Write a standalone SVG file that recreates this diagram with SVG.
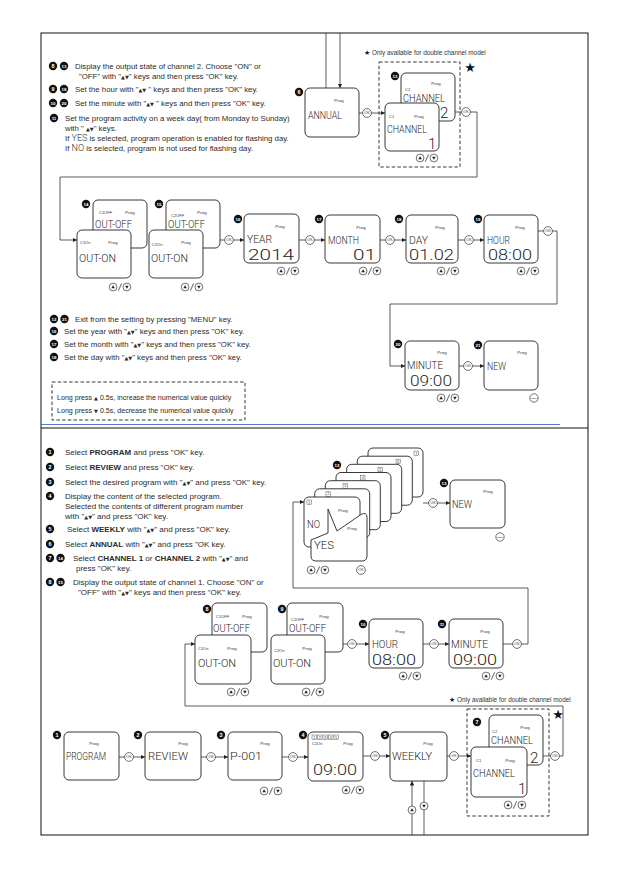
<svg xmlns="http://www.w3.org/2000/svg" width="629" height="893" viewBox="0 0 629 893">
<defs>
<style>
.t{font-family:"Liberation Sans",Arial,sans-serif;font-size:7.8px;fill:#2b2b2b}
.tb{font-family:"Liberation Sans",Arial,sans-serif;font-size:8px;fill:#2b2b2b}
.lp{font-family:"Liberation Sans",Arial,sans-serif;font-size:7.1px;fill:#2b2b2b}
.note{font-family:"Liberation Sans",Arial,sans-serif;font-size:6.4px;fill:#333}
.star{font-family:"DejaVu Sans",sans-serif;fill:#111}
.b{font-weight:bold}
.tr{font-family:"DejaVu Sans",sans-serif;font-size:5px}
.li{font-family:Roboto,"DejaVu Sans",sans-serif;font-weight:300;font-size:9px}
.lcd{font-family:Roboto,"DejaVu Sans",sans-serif;font-weight:300;font-size:10px;fill:#262626}
.big{font-family:Roboto,"DejaVu Sans",sans-serif;font-weight:300;font-size:15px;fill:#262626}
.pg{font-family:"Liberation Sans",Arial,sans-serif;font-size:4.4px;fill:#333;text-anchor:middle}
.sm{font-family:"Liberation Sans",Arial,sans-serif;font-size:4px;fill:#333}
.box{fill:#fff;stroke:#222;stroke-width:0.9}
.ln{fill:none;stroke:#333;stroke-width:0.8}
.ar{marker-end:url(#arr)}
.bd circle{fill:#111}
.bd text{fill:#fff;font-family:"Liberation Sans",Arial,sans-serif;font-weight:bold;font-size:5.4px;text-anchor:middle}
.bd text.d{font-size:4.4px}
.dash{fill:none;stroke:#222;stroke-width:0.9;stroke-dasharray:3.5 2.2}
.sq{fill:#fff;stroke:#444;stroke-width:0.45}
.sqt{font-family:"Liberation Sans",Arial,sans-serif;font-size:3.6px;fill:#333;text-anchor:middle}
.btn{fill:#fff;stroke:#333;stroke-width:0.7}
.bt{font-family:"Liberation Sans",Arial,sans-serif;fill:#333;text-anchor:middle}
</style>
<marker id="arr" viewBox="0 0 6 6" refX="6" refY="3" markerWidth="4.5" markerHeight="4.5" markerUnits="userSpaceOnUse" orient="auto"><path d="M0,0L6,3L0,6Z" fill="#222"/></marker>
<g id="ok"><circle class="btn" r="4.4"/><text class="bt" y="1.3" font-size="3.7">OK</text></g>
<g id="menu"><circle class="btn" r="4.2"/><text class="bt" y="0.9" font-size="2.4">MENU</text></g>
<g id="ud"><circle class="btn" cx="-6.9" r="3.9"/><path d="M-8.7,1.3H-5.1L-6.9,-1.8Z" fill="#222"/><path d="M-1.7,3.7L1.7,-3.7" class="ln"/><circle class="btn" cx="6.9" r="3.9"/><path d="M5.1,-1.3H8.7L6.9,1.8Z" fill="#222"/></g>
<g id="up1"><circle class="btn" r="3.9"/><path d="M-1.8,1.3H1.8L0,-1.8Z" fill="#222"/></g>
<g id="dn1"><circle class="btn" r="3.9"/><path d="M-1.8,-1.3H1.8L0,1.8Z" fill="#222"/></g>
</defs>
<rect width="629" height="893" fill="#fff"/>
<g id="frame">
<rect x="41" y="33" width="547" height="802" fill="none" stroke="#111" stroke-width="1"/>
<line x1="41" y1="428" x2="588" y2="428" stroke="#111" stroke-width="1"/>
<line x1="41" y1="424.5" x2="560" y2="424.5" stroke="#2f55c8" stroke-width="0.8"/>
</g>

<g id="connectors">
<path class="ln" d="M326,33V88"/>
<path class="ln ar" d="M340,33V88"/>
<path class="ln ar" d="M359,113H385"/>
<path class="ln ar" d="M455,112H477V177H60V240H77"/>
<path class="ln ar" d="M220,240H244"/>
<path class="ln ar" d="M299,240H325"/>
<path class="ln ar" d="M380,240H406"/>
<path class="ln ar" d="M458,240H484"/>
<path class="ln ar" d="M538,231H557V304H390V366H405"/>
<path class="ln ar" d="M459,366H484"/>
<path class="ln ar" d="M423,503H450"/>
<path class="ln ar" d="M343,644H369"/>
<path class="ln ar" d="M423,644H449"/>
<path class="ln ar" d="M503,644H528V588H293V502H304"/>
<path class="ln ar" d="M119,757H145"/>
<path class="ln ar" d="M201,757H228"/>
<path class="ln ar" d="M282,757H308"/>
<path class="ln ar" d="M363,756H390"/>
<path class="ln ar" d="M447,756H471"/>
<path class="ln ar" d="M543,756H563V706H185V644H195"/>
<path class="ln ar" d="M412,835V781"/>
<path class="ln" d="M424,781V835"/>
<use href="#ok" x="367" y="113"/>
<use href="#ok" x="466" y="112"/>
<use href="#ok" x="229" y="240"/>
<use href="#ok" x="310" y="240"/>
<use href="#ok" x="390" y="240"/>
<use href="#ok" x="469" y="240"/>
<use href="#ok" x="548" y="231"/>
<use href="#ok" x="468" y="366"/>
<use href="#ok" x="433" y="503"/>
<use href="#ok" x="352" y="644"/>
<use href="#ok" x="434" y="644"/>
<use href="#ok" x="517" y="644"/>
<use href="#ok" x="129" y="757"/>
<use href="#ok" x="211" y="757"/>
<use href="#ok" x="293" y="757"/>
<use href="#ok" x="375" y="756"/>
<use href="#ok" x="454" y="756"/>
<use href="#ok" x="555" y="756"/>
<use href="#up1" x="412" y="810"/>
<use href="#dn1" x="424" y="806"/>
</g>

<g id="n06-annual">
<rect class="box" x="305" y="88" width="54" height="49" rx="5"/>
<text class="pg" x="339" y="102">Prog</text>
<text class="lcd" x="308" y="119" textLength="34" lengthAdjust="spacingAndGlyphs">ANNUAL</text>
<g class="bd"><circle cx="299" cy="92" r="4.2"/><text x="299" y="93.9">6</text></g>
</g>

<g id="n13-channel-annual">
<rect class="dash" x="379" y="62" width="81" height="105"/>
<rect class="box" x="401" y="73" width="54" height="48" rx="5"/>
<text class="sm" x="405" y="91">C2</text>
<text class="pg" x="436" y="85">Prog</text>
<text class="lcd" x="403" y="102" textLength="42" lengthAdjust="spacingAndGlyphs">CHANNEL</text>
<text class="big" x="440" y="118" font-size="17">2</text>
<rect class="box" x="385" y="103" width="54" height="48" rx="5"/>
<text class="sm" x="389" y="118">C1</text>
<text class="pg" x="419" y="118">Prog</text>
<text class="lcd" x="387" y="133" textLength="40" lengthAdjust="spacingAndGlyphs">CHANNEL</text>
<text class="big" x="428" y="149" font-size="16">1</text>
<use href="#ud" x="427" y="158"/>
<g class="bd"><circle cx="395" cy="76" r="4.2"/><text class="d" x="395" y="77.6">13</text></g>
<text class="star" x="470" y="72" font-size="13" text-anchor="middle">★</text>
<text class="star" x="364" y="55" font-size="7">★</text>
<text class="note" x="372" y="55">Only available for double channel model</text>
</g>

<g id="n14-ch1-output-annual">
<rect class="box" x="93" y="200" width="54" height="48" rx="5"/>
<text class="sm" x="99" y="214">C1OFF</text>
<text class="pg" x="130" y="214">Prog</text>
<text class="lcd" x="95" y="228" textLength="37" lengthAdjust="spacingAndGlyphs">OUT-OFF</text>
<rect class="box" x="77" y="230" width="54" height="48" rx="5"/>
<text class="sm" x="80" y="244">C1On</text>
<text class="pg" x="113" y="244">Prog</text>
<text class="lcd" x="79" y="262" textLength="37" lengthAdjust="spacingAndGlyphs">OUT-ON</text>
<use href="#ud" x="120" y="287"/>
<g class="bd"><circle cx="86" cy="204" r="4.2"/><text class="d" x="86" y="205.6">14</text></g>
</g>

<g id="n15-ch2-output-annual">
<rect class="box" x="166" y="200" width="54" height="48" rx="5"/>
<text class="sm" x="171" y="217">C2OFF</text>
<text class="pg" x="202" y="214">Prog</text>
<text class="lcd" x="168" y="228" textLength="37" lengthAdjust="spacingAndGlyphs">OUT-OFF</text>
<rect class="box" x="149" y="230" width="54" height="48" rx="5"/>
<text class="sm" x="152" y="246">C2On</text>
<text class="pg" x="186" y="244">Prog</text>
<text class="lcd" x="151" y="262" textLength="37" lengthAdjust="spacingAndGlyphs">OUT-ON</text>
<use href="#ud" x="192" y="287"/>
<g class="bd"><circle cx="159" cy="204" r="4.2"/><text class="d" x="159" y="205.6">15</text></g>
</g>

<g id="n16-year">
<rect class="box" x="244" y="214" width="55" height="49" rx="5"/>
<text class="pg" x="280" y="228">Prog</text>
<text class="lcd" x="247" y="243" textLength="25" lengthAdjust="spacingAndGlyphs">YEAR</text>
<text class="big" x="248" y="259.5" textLength="46" lengthAdjust="spacingAndGlyphs">2014</text>
<use href="#ud" x="288" y="271"/>
<g class="bd"><circle cx="238" cy="219" r="4.2"/><text class="d" x="238" y="220.6">16</text></g>
</g>

<g id="n17-month">
<rect class="box" x="325" y="215" width="55" height="48" rx="5"/>
<text class="pg" x="361" y="229">Prog</text>
<text class="lcd" x="328" y="244" textLength="31" lengthAdjust="spacingAndGlyphs">MONTH</text>
<text class="big" x="353" y="259.5" textLength="23" lengthAdjust="spacingAndGlyphs">01</text>
<use href="#ud" x="370" y="271"/>
<g class="bd"><circle cx="319" cy="219" r="4.2"/><text class="d" x="319" y="220.6">17</text></g>
</g>

<g id="n18-day">
<rect class="box" x="406" y="215" width="52" height="48" rx="5"/>
<text class="pg" x="440" y="229">Prog</text>
<text class="lcd" x="409" y="244" textLength="19" lengthAdjust="spacingAndGlyphs">DAY</text>
<text class="big" x="409" y="259.5" textLength="45" lengthAdjust="spacingAndGlyphs">01.02</text>
<use href="#ud" x="448" y="271"/>
<g class="bd"><circle cx="399" cy="219" r="4.2"/><text class="d" x="399" y="220.6">18</text></g>
</g>

<g id="n19-hour-annual">
<rect class="box" x="484" y="215" width="54" height="48" rx="5"/>
<text class="pg" x="520" y="229">Prog</text>
<text class="lcd" x="487" y="244" textLength="23" lengthAdjust="spacingAndGlyphs">HOUR</text>
<text class="big" x="488" y="259.5" textLength="44" lengthAdjust="spacingAndGlyphs">08:00</text>
<use href="#ud" x="528" y="271"/>
<g class="bd"><circle cx="478" cy="219" r="4.2"/><text class="d" x="478" y="220.6">19</text></g>
</g>

<g id="n20-minute-annual">
<rect class="box" x="405" y="341" width="54" height="49" rx="5"/>
<text class="pg" x="442" y="354">Prog</text>
<text class="lcd" x="407" y="369" textLength="36" lengthAdjust="spacingAndGlyphs">MINUTE</text>
<text class="big" x="410" y="386" textLength="42" lengthAdjust="spacingAndGlyphs">09:00</text>
<use href="#ud" x="448" y="398"/>
<g class="bd"><circle cx="398" cy="344" r="4.2"/><text class="d" x="398" y="345.6">20</text></g>
</g>

<g id="n21-new-annual">
<rect class="box" x="484" y="341" width="54" height="49" rx="5"/>
<text class="pg" x="522" y="354">Prog</text>
<text class="lcd" x="487" y="370" textLength="19" lengthAdjust="spacingAndGlyphs">NEW</text>
<use href="#menu" x="534" y="398"/>
<g class="bd"><circle cx="478" cy="345" r="4.2"/><text class="d" x="478" y="346.6">21</text></g>
</g>

<g id="top-text">
<g class="bd"><circle cx="53" cy="66" r="4.2"/><text x="53" y="67.9">8</text></g>
<g class="bd"><circle cx="64" cy="66" r="4.2"/><text class="d" x="64" y="67.6">13</text></g>
<text class="t" x="75" y="68.7">Display the output state of channel 2. Choose "ON" or</text>
<text class="t" x="79" y="78.7">"OFF" with "<tspan class="tr">▲▼</tspan>" keys and  then press "OK" key.</text>
<g class="bd"><circle cx="53" cy="89" r="4.2"/><text x="53" y="90.9">9</text></g>
<g class="bd"><circle cx="64" cy="89" r="4.2"/><text class="d" x="64" y="90.6">18</text></g>
<text class="t" x="75" y="91.7">Set the hour with "<tspan class="tr">▲▼</tspan> " keys and then press "OK" key.</text>
<g class="bd"><circle cx="53" cy="103" r="4.2"/><text class="d" x="53" y="104.6">10</text></g>
<g class="bd"><circle cx="64" cy="103" r="4.2"/><text class="d" x="64" y="104.6">20</text></g>
<text class="t" x="75" y="105.7">Set the minute with "<tspan class="tr">▲▼</tspan> " keys and then press "OK" key.</text>
<g class="bd"><circle cx="54" cy="118" r="4.2"/><text class="d" x="54" y="119.6">11</text></g>
<text class="t" x="65" y="120.7">Set the program activity on a week day( from Monday to Sunday)</text>
<text class="t" x="65" y="130.7">with " <tspan class="tr">▲▼</tspan>" keys.</text>
<text class="t" x="65" y="140.7">If <tspan class="li">YES</tspan> is selected, program operation is enabled for flashing day.</text>
<text class="t" x="65" y="150.7">If <tspan class="li">NO</tspan> is selected, program is not used for flashing day.</text>

<g class="bd"><circle cx="54" cy="319" r="4.2"/><text class="d" x="54" y="320.6">12</text></g>
<g class="bd"><circle cx="64.5" cy="319" r="4.2"/><text class="d" x="64.5" y="320.6">21</text></g>
<text class="t" x="75" y="321.7">Exit from the setting by pressing "MENU" key.</text>
<g class="bd"><circle cx="54" cy="331" r="4.2"/><text class="d" x="54" y="332.6">16</text></g>
<text class="t" x="64" y="333.7">Set the year with "<tspan class="tr">▲▼</tspan>" keys and then press "OK" key.</text>
<g class="bd"><circle cx="54" cy="344" r="4.2"/><text class="d" x="54" y="345.6">17</text></g>
<text class="t" x="64" y="346.7">Set the month with "<tspan class="tr">▲▼</tspan>" keys and then press "OK" key.</text>
<g class="bd"><circle cx="54" cy="357" r="4.2"/><text class="d" x="54" y="358.6">18</text></g>
<text class="t" x="64" y="359.7">Set the day with "<tspan class="tr">▲▼</tspan>" keys and then press "OK" key.</text>

<rect class="dash" x="52" y="382" width="193" height="38"/>
<text class="lp" x="57" y="399.5">Long press <tspan class="tr">▲</tspan> 0.5s, increase the numerical value quickly</text>
<text class="lp" x="57" y="412.5">Long press <tspan class="tr">▼</tspan> 0.5s, decrease the numerical value quickly</text>
</g>

<g id="bottom-text">
<g class="bd"><circle cx="50" cy="452" r="4.2"/><text x="50" y="453.9">1</text></g>
<text class="tb" x="65" y="454.8">Select <tspan class="b">PROGRAM</tspan> and press "OK" key.</text>
<g class="bd"><circle cx="50" cy="467" r="4.2"/><text x="50" y="468.9">2</text></g>
<text class="tb" x="65" y="469.8">Select <tspan class="b">REVIEW</tspan> and press "OK" key.</text>
<g class="bd"><circle cx="50" cy="482" r="4.2"/><text x="50" y="483.9">3</text></g>
<text class="tb" x="65" y="484.8">Select the desired program with "<tspan class="tr">▲▼</tspan>" and press "OK" key.</text>
<g class="bd"><circle cx="50" cy="496" r="4.2"/><text x="50" y="497.9">4</text></g>
<text class="tb" x="65" y="498.8">Display the content of the selected program.</text>
<text class="tb" x="65" y="508.8">Selected the contents of different program number</text>
<text class="tb" x="65" y="518.8">with "<tspan class="tr">▲▼</tspan>" and press "OK" key.</text>
<g class="bd"><circle cx="50" cy="529" r="4.2"/><text x="50" y="530.9">5</text></g>
<text class="tb" x="67" y="531.8">Select <tspan class="b">WEEKLY</tspan> with "<tspan class="tr">▲▼</tspan>" and press "OK" key.</text>
<g class="bd"><circle cx="50" cy="544" r="4.2"/><text x="50" y="545.9">6</text></g>
<text class="tb" x="65" y="546.8">Select <tspan class="b">ANNUAL</tspan> with "<tspan class="tr">▲▼</tspan>" and press "OK key.</text>
<g class="bd"><circle cx="50" cy="558" r="4.2"/><text x="50" y="559.9">7</text></g>
<g class="bd"><circle cx="60.5" cy="558" r="4.2"/><text class="d" x="60.5" y="559.6">14</text></g>
<text class="tb" x="73" y="560.8">Select <tspan class="b">CHANNEL 1</tspan> or <tspan class="b">CHANNEL 2</tspan> with "<tspan class="tr">▲▼</tspan>" and</text>
<text class="tb" x="76" y="570.8">press "OK" key.</text>
<g class="bd"><circle cx="50" cy="582" r="4.2"/><text x="50" y="583.9">8</text></g>
<g class="bd"><circle cx="60.5" cy="582" r="4.2"/><text class="d" x="60.5" y="583.6">15</text></g>
<text class="tb" x="73" y="584.8">Display the output state of channel 1. Choose "ON" or</text>
<text class="tb" x="78" y="594.8">"OFF" with "<tspan class="tr">▲▼</tspan>" keys and  then press "OK" key.</text>
</g>

<g id="n12-weekday-stack">
<rect class="box" x="368" y="448" width="55" height="49" rx="5"/><rect class="sq" x="414" y="451" width="4.5" height="4.5"/><text class="sqt" x="416.2" y="454.6">7</text>
<rect class="box" x="357.3" y="456.2" width="55" height="49" rx="5"/><rect class="sq" x="396" y="459.2" width="4.5" height="4.5"/><text class="sqt" x="398.2" y="462.8">6</text>
<rect class="box" x="346.7" y="464.3" width="55" height="49" rx="5"/><rect class="sq" x="378" y="467.3" width="4.5" height="4.5"/><text class="sqt" x="380.2" y="470.9">5</text>
<rect class="box" x="336" y="472.5" width="55" height="49" rx="5"/><rect class="sq" x="360.5" y="475.5" width="4.5" height="4.5"/><text class="sqt" x="362.7" y="479.1">4</text>
<rect class="box" x="325.3" y="480.7" width="55" height="49" rx="5"/><rect class="sq" x="343" y="483.7" width="4.5" height="4.5"/><text class="sqt" x="345.2" y="487.3">3</text>
<rect class="box" x="314.7" y="488.8" width="55" height="49" rx="5"/><rect class="sq" x="326" y="491.8" width="4.5" height="4.5"/><text class="sqt" x="328.2" y="495.4">2</text>
<rect class="box" x="304" y="497" width="56" height="50" rx="5"/><rect class="sq" x="307" y="500" width="4.5" height="4.5"/><text class="sqt" x="309.2" y="503.6">1</text>
<text class="pg" x="343" y="512">Prog</text>
<text class="lcd" x="307" y="528" textLength="13" lengthAdjust="spacingAndGlyphs">NO</text>
<path class="box" d="M311,540L328,533L328,509L337,531L361,514.5Q366.5,511.5 367,517V556Q367,561 362,561H316Q311,561 311,556Z"/>
<text class="pg" x="352" y="530">Prog</text>
<text class="lcd" x="314" y="549" textLength="20" lengthAdjust="spacingAndGlyphs">YES</text>
<use href="#ud" x="318" y="570"/>
<use href="#ok" x="361" y="570"/>
<g class="bd"><circle cx="337" cy="465" r="4.2"/><text class="d" x="337" y="466.6">12</text></g>
</g>

<g id="n13-new-weekly">
<rect class="box" x="450" y="480" width="55" height="48" rx="5"/>
<text class="pg" x="488" y="493">Prog</text>
<text class="lcd" x="452" y="508" textLength="20" lengthAdjust="spacingAndGlyphs">NEW</text>
<use href="#menu" x="500" y="537"/>
<g class="bd"><circle cx="444" cy="483" r="4.2"/><text class="d" x="444" y="484.6">13</text></g>
</g>

<g id="n08-ch1-output-weekly">
<rect class="box" x="212" y="603" width="55" height="49" rx="5"/>
<text class="sm" x="216" y="618">C1OFF</text>
<text class="pg" x="247" y="618">Prog</text>
<text class="lcd" x="213" y="632" textLength="37" lengthAdjust="spacingAndGlyphs">OUT-OFF</text>
<rect class="box" x="195" y="635" width="56" height="49" rx="5"/>
<text class="sm" x="198" y="650">C1On</text>
<text class="pg" x="232" y="650">Prog</text>
<text class="lcd" x="198" y="667" textLength="38" lengthAdjust="spacingAndGlyphs">OUT-ON</text>
<use href="#ud" x="238" y="692"/>
<g class="bd"><circle cx="207" cy="609" r="4.2"/><text x="207" y="610.9">8</text></g>
</g>

<g id="n09-ch2-output-weekly">
<rect class="box" x="287" y="603" width="56" height="49" rx="5"/>
<text class="sm" x="291" y="621">C2OFF</text>
<text class="pg" x="324" y="618">Prog</text>
<text class="lcd" x="289" y="632" textLength="37" lengthAdjust="spacingAndGlyphs">OUT-OFF</text>
<rect class="box" x="271" y="635" width="54" height="49" rx="5"/>
<text class="sm" x="274" y="652">C2On</text>
<text class="pg" x="307" y="650">Prog</text>
<text class="lcd" x="273" y="667" textLength="38" lengthAdjust="spacingAndGlyphs">OUT-ON</text>
<use href="#ud" x="313" y="692"/>
<g class="bd"><circle cx="282" cy="609" r="4.2"/><text x="282" y="610.9">9</text></g>
</g>

<g id="n10-hour-weekly">
<rect class="box" x="369" y="619" width="54" height="49" rx="5"/>
<text class="pg" x="400" y="633">Prog</text>
<text class="lcd" x="372" y="648" textLength="26" lengthAdjust="spacingAndGlyphs">HOUR</text>
<text class="big" x="372" y="664.5" textLength="44" lengthAdjust="spacingAndGlyphs">08:00</text>
<use href="#ud" x="410" y="676"/>
<g class="bd"><circle cx="363" cy="624" r="4.2"/><text class="d" x="363" y="625.6">10</text></g>
</g>

<g id="n11-minute-weekly">
<rect class="box" x="449" y="619" width="54" height="49" rx="5"/>
<text class="pg" x="485" y="633">Prog</text>
<text class="lcd" x="451" y="648" textLength="37" lengthAdjust="spacingAndGlyphs">MINUTE</text>
<text class="big" x="453" y="664.5" textLength="44" lengthAdjust="spacingAndGlyphs">09:00</text>
<use href="#ud" x="493" y="676"/>
<g class="bd"><circle cx="442" cy="624" r="4.2"/><text class="d" x="442" y="625.6">11</text></g>
</g>

<g id="n01-program">
<rect class="box" x="64" y="732" width="55" height="48" rx="5"/>
<text class="pg" x="94" y="745">Prog</text>
<text class="lcd" x="66" y="760" textLength="40" lengthAdjust="spacingAndGlyphs">PROGRAM</text>
<g class="bd"><circle cx="57" cy="735" r="4.2"/><text x="57" y="736.9">1</text></g>
</g>

<g id="n02-review">
<rect class="box" x="145" y="732" width="56" height="48" rx="5"/>
<text class="pg" x="183" y="745">Prog</text>
<text class="lcd" x="148" y="760" textLength="40" lengthAdjust="spacingAndGlyphs">REVIEW</text>
<g class="bd"><circle cx="138" cy="735" r="4.2"/><text x="138" y="736.9">2</text></g>
</g>

<g id="n03-p001">
<rect class="box" x="228" y="732" width="54" height="48" rx="5"/>
<text class="pg" x="265" y="745">Prog</text>
<text class="lcd" x="230" y="760" textLength="32" lengthAdjust="spacingAndGlyphs">P-001</text>
<use href="#ud" x="271" y="791"/>
<g class="bd"><circle cx="221" cy="735" r="4.2"/><text x="221" y="736.9">3</text></g>
</g>

<g id="n04-content">
<rect class="box" x="308" y="732" width="55" height="49" rx="5"/>
<rect class="sq" x="312" y="735" width="4.5" height="4.5"/><text class="sqt" x="314.2" y="738.6">1</text>
<rect class="sq" x="317.5" y="735" width="4.5" height="4.5"/><text class="sqt" x="319.7" y="738.6">2</text>
<rect class="sq" x="323" y="735" width="4.5" height="4.5"/><text class="sqt" x="325.2" y="738.6">3</text>
<rect class="sq" x="328.5" y="735" width="4.5" height="4.5"/><text class="sqt" x="330.7" y="738.6">4</text>
<rect class="sq" x="334" y="735" width="4.5" height="4.5"/><text class="sqt" x="336.2" y="738.6">5</text>
<text class="sm" x="312" y="745">C1On</text>
<text class="pg" x="348" y="745">Prog</text>
<text class="big" x="313" y="775" textLength="44" lengthAdjust="spacingAndGlyphs">09:00</text>
<use href="#ud" x="353" y="790"/>
<g class="bd"><circle cx="303" cy="735" r="4.2"/><text x="303" y="736.9">4</text></g>
</g>

<g id="n05-weekly">
<rect class="box" x="390" y="732" width="57" height="49" rx="5"/>
<text class="pg" x="428" y="745">Prog</text>
<text class="lcd" x="392" y="760" textLength="40" lengthAdjust="spacingAndGlyphs">WEEKLY</text>
<g class="bd"><circle cx="385" cy="735" r="4.2"/><text x="385" y="736.9">5</text></g>
</g>

<g id="n07-channel-weekly">
<rect class="dash" x="467" y="709" width="82" height="107"/>
<rect class="box" x="489" y="715" width="54" height="50" rx="5"/>
<text class="sm" x="492" y="733">C2</text>
<text class="pg" x="525" y="729">Prog</text>
<text class="lcd" x="491" y="744" textLength="42" lengthAdjust="spacingAndGlyphs">CHANNEL</text>
<text class="big" x="530" y="763" font-size="17">2</text>
<rect class="box" x="471" y="747" width="56" height="50" rx="5"/>
<text class="sm" x="476" y="762">C1</text>
<text class="pg" x="510" y="762">Prog</text>
<text class="lcd" x="473" y="777" textLength="42" lengthAdjust="spacingAndGlyphs">CHANNEL</text>
<text class="big" x="518" y="794" font-size="16">1</text>
<use href="#ud" x="515" y="805"/>
<g class="bd"><circle cx="477" cy="722" r="4.2"/><text x="477" y="723.9">7</text></g>
<text class="star" x="558" y="719" font-size="13" text-anchor="middle">★</text>
<text class="star" x="449" y="702" font-size="7">★</text>
<text class="note" x="457" y="702">Only available for double channel model</text>
</g>
</svg>
